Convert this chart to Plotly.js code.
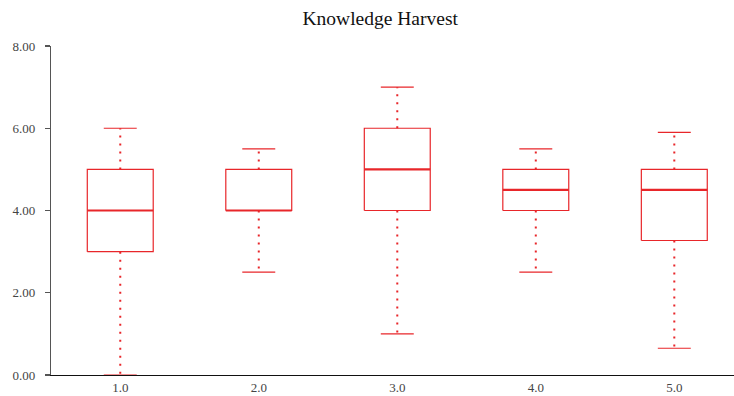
<!DOCTYPE html>
<html>
<head>
<meta charset="utf-8">
<script src="https://cdn.plot.ly/plotly-3.0.1.min.js"></script>
<style>html,body{margin:0;padding:0;background:#fff}#chart{width:734px;height:396px}</style>
</head>
<body>
<div id="chart"></div>
<script>
const categories = [1, 2, 3, 4, 5];
const tickLabels = ["1.0", "2.0", "3.0", "4.0", "5.0"];
const lowerFence = [0.0, 2.5, 1.0, 2.5, 0.65];
const q1 = [3.0, 4.0, 4.0, 4.0, 3.27];
const median = [4.0, 4.0, 5.0, 4.5, 4.5];
const q3 = [5.0, 5.0, 6.0, 5.0, 5.0];
const upperFence = [6.0, 5.5, 7.0, 5.5, 5.9];

const boxHalf = 0.238;
const capHalf = 0.119;
const red = "#e8262a";

const boxX = [], boxY = [], medX = [], medY = [], whX = [], whY = [], capX = [], capY = [];
categories.forEach((c, i) => {
  boxX.push(c - boxHalf, c + boxHalf, c + boxHalf, c - boxHalf, c - boxHalf, null);
  boxY.push(q1[i], q1[i], q3[i], q3[i], q1[i], null);
  medX.push(c - boxHalf, c + boxHalf, null);
  medY.push(median[i], median[i], null);
  whX.push(c, c, null, c, c, null);
  whY.push(q3[i], upperFence[i], null, q1[i], lowerFence[i], null);
  capX.push(c - capHalf, c + capHalf, null, c - capHalf, c + capHalf, null);
  capY.push(upperFence[i], upperFence[i], null, lowerFence[i], lowerFence[i], null);
});

const traces = [
  {x: whX, y: whY, mode: "lines", line: {color: red, width: 2, dash: "2px,6px"}, hoverinfo: "skip"},
  {x: capX, y: capY, mode: "lines", line: {color: red, width: 1.2}, hoverinfo: "skip"},
  {x: boxX, y: boxY, mode: "lines", line: {color: red, width: 1.2}, hoverinfo: "skip"},
  {x: medX, y: medY, mode: "lines", line: {color: red, width: 2.2}, hoverinfo: "skip"}
];

const serif = "Liberation Serif, Times New Roman, serif";
const layout = {
  width: 734, height: 396,
  margin: {l: 51, r: 0, t: 46, b: 21},
  showlegend: false,
  paper_bgcolor: "#fff", plot_bgcolor: "#fff",
  font: {family: serif, size: 13, color: "#444"},
  title: {text: "Knowledge Harvest", x: 0.518, xanchor: "center", y: 0.955, yanchor: "middle",
          font: {family: serif, size: 19.5, color: "#111"}},
  xaxis: {
    range: [0.5, 5.431], tickvals: categories, ticktext: tickLabels,
    showgrid: false, zeroline: false, showline: true, linecolor: "#111", linewidth: 1.2,
    ticks: "", ticklabelstandoff: 0, fixedrange: true
  },
  yaxis: {
    range: [0, 8], tickvals: [0, 2, 4, 6, 8], tickformat: ".2f",
    showgrid: false, zeroline: false, showline: true, linecolor: "#555", linewidth: 1.2,
    ticks: "outside", ticklen: 5, tickcolor: "#555", tickwidth: 1.2, ticklabelstandoff: 7,
    fixedrange: true
  }
};

Plotly.newPlot("chart", traces, layout, {displayModeBar: false, staticPlot: true});
</script>
</body>
</html>
